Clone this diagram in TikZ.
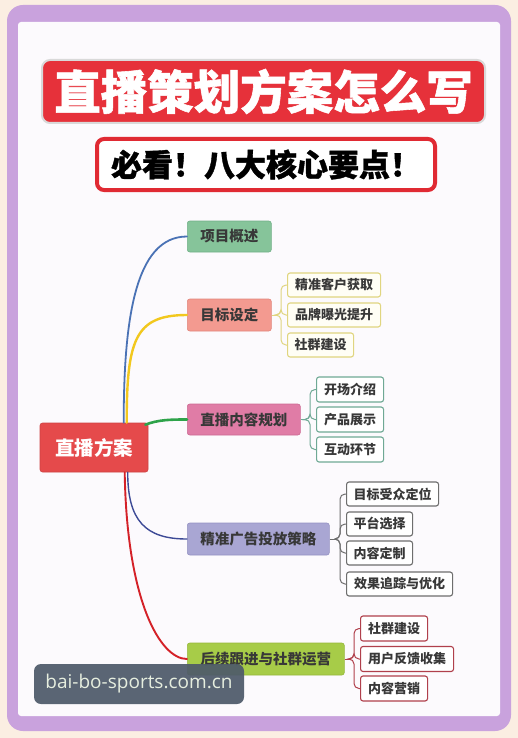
\documentclass[tikz,border=0pt]{standalone}
\usepackage{fontspec}
\newfontfamily\cjk{Noto Sans CJK SC}
\newfontfamily\cjkheavy{Noto Sans CJK SC}[BoldFeatures={FakeBold=1.2}]
\newfontfamily\wmfont{Open Sans}
\usetikzlibrary{calc}
\definecolor{peach}{HTML}{FBEEE2}
\definecolor{purplebg}{HTML}{C9A2DD}
\definecolor{innerbg}{HTML}{FCFAFD}
\definecolor{titlered}{HTML}{E6313A}
\definecolor{subred}{HTML}{E02A33}
\definecolor{centerred}{HTML}{E54A4B}
\definecolor{txt}{HTML}{383838}
\definecolor{fGreen}{HTML}{86C49A}\definecolor{dGreen}{HTML}{72B088}
\definecolor{fSalmon}{HTML}{F39A90}\definecolor{dSalmon}{HTML}{E2867C}
\definecolor{fPink}{HTML}{E07CA6}\definecolor{dPink}{HTML}{CC6A93}
\definecolor{fLav}{HTML}{A9A6D3}\definecolor{dLav}{HTML}{9592C2}
\definecolor{fLime}{HTML}{A7CC48}\definecolor{dLime}{HTML}{96B83C}
\definecolor{kYellow}{HTML}{E0D580}
\definecolor{kTeal}{HTML}{6FA995}
\definecolor{kGray}{HTML}{6E6E6E}
\definecolor{kRed}{HTML}{B0404C}
\definecolor{cBlue}{HTML}{4A72B5}
\definecolor{cYellow}{HTML}{F2C81E}
\definecolor{cGreen}{HTML}{2EA34A}
\definecolor{cNavy}{HTML}{3D4A96}
\definecolor{cRed}{HTML}{D42128}
\definecolor{wmbg}{HTML}{4E5A6A}
\definecolor{wmtxt}{HTML}{E6EEDF}
\begin{document}
\begin{tikzpicture}[x=1pt,y=-1pt,
  titlebox/.style={rectangle, rounded corners=8pt, fill=titlered, draw=white!85!black, line width=2pt,
    minimum width=443pt, minimum height=63pt, inner sep=0pt, text=white,
    font=\cjkheavy\bfseries\fontsize{46.5}{50}\selectfont},
  subbox/.style={rectangle, rounded corners=7pt, fill=white, draw=subred, line width=4pt,
    minimum width=338pt, minimum height=51pt, inner sep=0pt, text=black,
    font=\cjkheavy\bfseries\fontsize{31}{34}\selectfont},
  rootbox/.style={rectangle, rounded corners=2.5pt, fill=centerred, draw=centerred!90!black, line width=0.6pt,
    minimum width=108pt, minimum height=49pt, inner sep=0pt, text=white,
    font=\cjk\bfseries\fontsize{19.5}{22}\selectfont},
  branch/.style={rectangle, rounded corners=2.5pt, anchor=west, minimum height=31pt, inner sep=0pt,
    line width=0.6pt, text=txt, font=\cjk\bfseries\fontsize{14.5}{16}\selectfont},
  leaf/.style={rectangle, rounded corners=2.5pt, anchor=west, minimum height=24pt, inner sep=0pt,
    fill=white, line width=1.1pt, text=txt, font=\cjk\bfseries\fontsize{13}{15}\selectfont},
  conn/.style={line cap=round},
  lk/.style={line width=1pt},
  wm/.style={rectangle, rounded corners=7pt, fill=wmbg, fill opacity=0.93, text opacity=1,
    minimum width=210pt, minimum height=40pt, inner sep=0pt, text=wmtxt,
    font=\wmfont\fontsize{19}{22}\selectfont}
]
\useasboundingbox (0,0) rectangle (518,738);
\fill[peach] (0,0) rectangle (518,738);
\fill[purplebg, rounded corners=16pt] (7,5) rectangle (511,731);
\fill[innerbg, rounded corners=3pt] (18,22) rectangle (500,716);

% titles
\node[titlebox] (title) at (263.5,91.5) {直播策划方案怎么写};
\node[subbox] (sub) at (266,164.5) {必看！八大核心要点！};

% root
\node[rootbox] (c) at (94,447.5) {直播方案};

% branches
\node[branch, fill=fGreen, draw=dGreen, minimum width=84pt] (b1) at (187,236.5) {项目概述};
\node[branch, fill=fSalmon, draw=dSalmon, minimum width=84pt, minimum height=32pt] (b2) at (187,315) {目标设定};
\node[branch, fill=fPink, draw=dPink, minimum width=113pt] (b3) at (187,419.5) {直播内容规划};
\node[branch, fill=fLav, draw=dLav, minimum width=142pt, minimum height=32pt] (b4) at (187,539) {精准广告投放策略};
\node[branch, fill=fLime, draw=dLime, minimum width=157pt, minimum height=32pt] (b5) at (187,659) {后续跟进与社群运营};

% leaves group 1
\node[leaf, draw=kYellow, fill=white!96!yellow, minimum width=93pt] (l11) at (287,285) {精准客户获取};
\node[leaf, draw=kYellow, fill=white!96!yellow, minimum width=93pt] (l12) at (287,315) {品牌曝光提升};
\node[leaf, draw=kYellow, fill=white!96!yellow, minimum width=66pt] (l13) at (287,345) {社群建设};
% leaves group 2
\node[leaf, draw=kTeal, minimum width=67pt, minimum height=25pt] (l21) at (316,389.5) {开场介绍};
\node[leaf, draw=kTeal, minimum width=67pt, minimum height=25pt] (l22) at (316,419.5) {产品展示};
\node[leaf, draw=kTeal, minimum width=67pt, minimum height=25pt] (l23) at (316,449.5) {互动环节};
% leaves group 3
\node[leaf, draw=kGray, minimum width=92pt] (l31) at (346,494) {目标受众定位};
\node[leaf, draw=kGray, minimum width=66pt] (l32) at (346,524) {平台选择};
\node[leaf, draw=kGray, minimum width=66pt] (l33) at (346,553) {内容定制};
\node[leaf, draw=kGray, minimum width=106pt] (l34) at (346,584) {效果追踪与优化};
% leaves group 4
\node[leaf, draw=kRed, minimum width=67pt, minimum height=25pt] (l41) at (360,628.5) {社群建设};
\node[leaf, draw=kRed, minimum width=93pt, minimum height=25pt] (l42) at (360,659) {用户反馈收集};
\node[leaf, draw=kRed, minimum width=67pt, minimum height=25pt] (l43) at (360,688.5) {内容营销};

% main connectors
\coordinate (s1) at ($(c.north west)+(84,0)$);
\coordinate (s2) at ($(c.north west)+(87,0)$);
\coordinate (s3) at ($(c.north east)+(-3,2)$);
\coordinate (s4) at ($(c.south west)+(88,0)$);
\coordinate (s5) at ($(c.south west)+(85,0)$);
\draw[conn, cBlue, line width=1.8pt] (s1) .. controls +(0,-103) and +(-52,0) .. (b1.west);
\draw[conn, cYellow, line width=2.4pt] (s2) .. controls +(0,-83) and +(-52,0) .. (b2.west);
\draw[conn, cGreen, line width=2.6pt] (s3) .. controls +(13,-5) and +(-17,0) .. (b3.west);
\draw[conn, cNavy, line width=1.4pt] (s4) .. controls +(0,48) and +(-42,0) .. (b4.west);
\draw[conn, cRed, line width=1.9pt] (s5) .. controls +(2,128) and +(-27,0) .. (b5.west);

% leaf connectors
\coordinate (j2) at ($(b2.east)+(5,0)$);
\draw[lk, kYellow] (b2.east) -- (j2);
\foreach \l in {l11,l12,l13} \draw[lk, kYellow, rounded corners=5pt] (j2) -| ($(\l.west)+(-6,0)$) -- (\l.west);
\coordinate (j3) at ($(b3.east)+(5,0)$);
\draw[lk, kTeal] (b3.east) -- (j3);
\foreach \l in {l21,l22,l23} \draw[lk, kTeal, rounded corners=5pt] (j3) -| ($(\l.west)+(-6,0)$) -- (\l.west);
\coordinate (j4) at ($(b4.east)+(5,0)$);
\draw[lk, kGray] (b4.east) -- (j4);
\foreach \l in {l31,l32,l33,l34} \draw[lk, kGray, rounded corners=5pt] (j4) -| ($(\l.west)+(-6,0)$) -- (\l.west);
\coordinate (j5) at ($(b5.east)+(5,0)$);
\draw[lk, kRed] (b5.east) -- (j5);
\foreach \l in {l41,l42,l43} \draw[lk, kRed, rounded corners=5pt] (j5) -| ($(\l.west)+(-6,0)$) -- (\l.west);

% watermark
\node[wm] (wm) at (139,684) {bai-bo-sports.com.cn};
\end{tikzpicture}
\end{document}
